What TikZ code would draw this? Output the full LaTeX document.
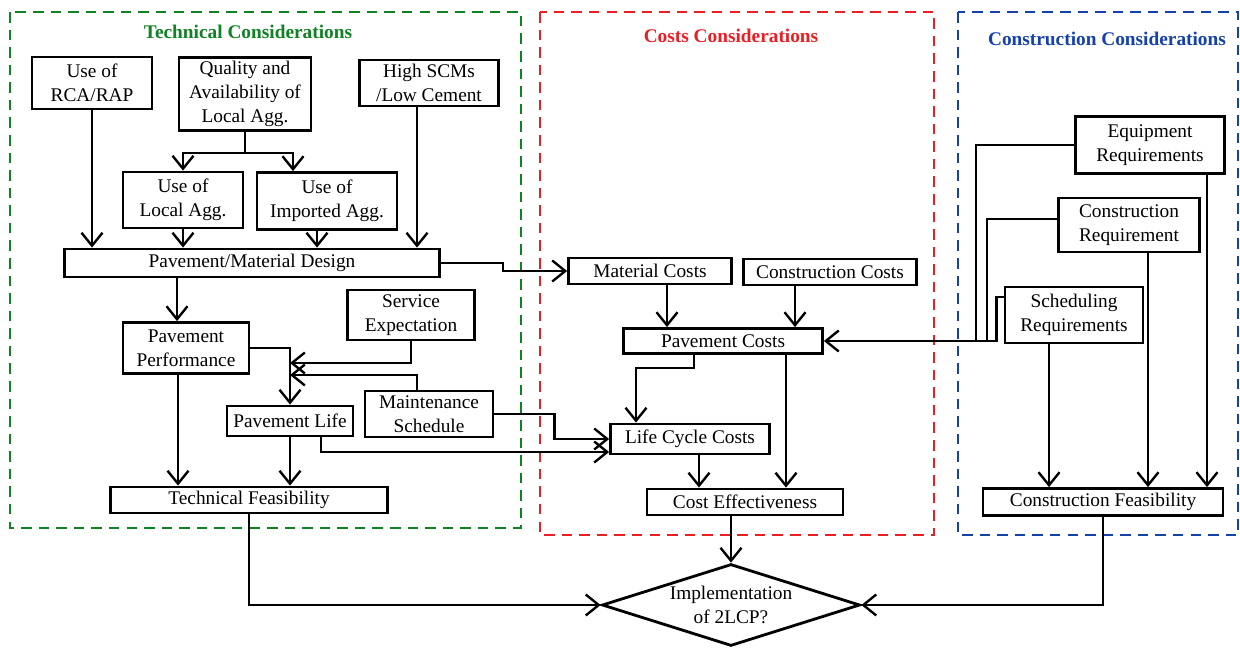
\documentclass[tikz,border=0pt]{standalone}
\usepackage{fontspec}
\setmainfont{Liberation Serif}
\usetikzlibrary{arrows.meta,shapes.geometric}
\definecolor{techgreen}{RGB}{15,130,35}
\definecolor{costred}{RGB}{235,30,35}
\definecolor{consblue}{RGB}{20,65,170}

\begin{document}
\begin{tikzpicture}[x=0.02cm,y=-0.02cm,>={Straight Barb[length=2.6mm,width=4.2mm]},line width=1.35pt,
    box/.style={draw,line width=1.6pt,align=center,inner sep=1pt,font=\fontsize{11}{13.5}\selectfont},
    group/.style={dashed,line width=1.3pt,dash pattern=on 6pt off 4pt},
    title/.style={font=\fontsize{11}{13}\selectfont\bfseries}]
\useasboundingbox (0,0) rectangle (1240,652);

% dashed groups
\draw[group,techgreen] (10,12) rectangle (521,528);
\draw[group,costred] (540,12) rectangle (934,535);
\draw[group,consblue] (958,12) rectangle (1238,535);
\node[title,techgreen] (ttech) at (248,32) {Technical Considerations};
\node[title,costred] (tcost) at (731,36) {Costs Considerations};
\node[title,consblue] (tcons) at (1107,39) {Construction Considerations};

% technical
\node[box,minimum width=2.4cm,minimum height=1.04cm] (rca) at (92,83) {Use of\\RCA/RAP};
\node[box,minimum width=2.64cm,minimum height=1.46cm] (qual) at (245,94) {Quality and\\Availability of\\Local Agg.};
\node[box,minimum width=2.78cm,minimum height=0.92cm] (scm) at (429,83) {High SCMs\\/Low Cement};
\node[box,minimum width=2.4cm,minimum height=1.12cm] (loc) at (183,200) {Use of\\Local Agg.};
\node[box,minimum width=2.8cm,minimum height=1.14cm] (imp) at (327,201) {Use of\\Imported Agg.};
\node[box,minimum width=7.5cm,minimum height=0.56cm] (pmd) at (252,263) {Pavement/Material Design};
\node[box,minimum width=2.52cm,minimum height=1.02cm] (perf) at (186,348) {Pavement\\Performance};
\node[box,minimum width=2.54cm,minimum height=1cm] (serv) at (411,315) {Service\\Expectation};
\node[box,minimum width=2.52cm,minimum height=0.6cm] (life) at (290,421) {Pavement Life};
\node[box,minimum width=2.56cm,minimum height=0.92cm] (maint) at (429,414) {Maintenance\\Schedule};
\node[box,minimum width=5.54cm,minimum height=0.52cm] (tfeas) at (249,500) {Technical Feasibility};

% costs
\node[box,minimum width=3.26cm,minimum height=0.52cm] (mat) at (650,271) {Material Costs};
\node[box,minimum width=3.46cm,minimum height=0.52cm] (ccost) at (830,272) {Construction Costs};
\node[box,minimum width=3.98cm,minimum height=0.5cm] (pcost) at (723,341) {Pavement Costs};
\node[box,minimum width=3.18cm,minimum height=0.6cm] (lcc) at (690,439) {Life Cycle Costs};
\node[box,minimum width=3.92cm,minimum height=0.52cm] (ceff) at (745,502) {Cost Effectiveness};

% construction
\node[box,minimum width=2.98cm,minimum height=1.14cm] (equip) at (1150,145) {Equipment\\Requirements};
\node[box,minimum width=2.82cm,minimum height=1.08cm] (creq) at (1129,225) {Construction\\Requirement};
\node[box,minimum width=2.76cm,minimum height=1.12cm] (sched) at (1074,315) {Scheduling\\Requirements};
\node[box,minimum width=4.8cm,minimum height=0.54cm] (cfeas) at (1103,502) {Construction Feasibility};

\node[draw,diamond,line width=1.6pt,aspect=2.75,inner sep=0pt,minimum width=5.16cm,align=center,
    font=\fontsize{11}{13.5}\selectfont] (impl) at (731,605) {Implementation\\of 2LCP?};

\coordinate (qs) at (245,153);
\coordinate (qi) at (293,153);
\coordinate (sj) at (290,363);
\coordinate (mj) at (290,375);
\coordinate (ex) at (976,0);
\coordinate (cx) at (987,0);

% technical links
\draw[->] (rca.south) -- (rca.south |- pmd.north);
\draw (qual.south) -- (qs);
\draw[->] (qs) -| (loc.north);
\draw[->] (qs) -- (qi) -- (qi |- imp.north);
\draw[->] (loc.south) -- (loc.south |- pmd.north);
\draw[->] ([xshift=-0.2cm]imp.south) -- ([xshift=-0.2cm]imp.south |- pmd.north);
\draw[->] ([xshift=-0.24cm]scm.south) -- ([xshift=-0.24cm]scm.south |- pmd.north);
\draw[->] ([xshift=-0.18cm]perf.north |- pmd.south) -- ([xshift=-0.18cm]perf.north);
\draw[->] (pmd.east) -- ++(62,0) |- (mat.west);
\draw[->] (perf.east) -| (life.north);
\draw[->] (serv.south) |- (sj);
\draw[->] ([xshift=-0.24cm]maint.north) |- (mj);
\draw[->] ([xshift=-0.16cm]perf.south) -- ([xshift=-0.16cm]perf.south |- tfeas.north);
\draw[->] (life.south) -- (life.south |- tfeas.north);
\draw[->] ([xshift=0.62cm]life.south) |- ([yshift=-0.26cm]lcc.west);
\draw[->] (maint.east) -- ++(60,0) |- (lcc.west);

% cost links
\draw[->] ([xshift=0.34cm]mat.south) -- ([xshift=0.34cm]mat.south |- pcost.north);
\draw[->] ([xshift=-0.7cm]ccost.south) -- ([xshift=-0.7cm]ccost.south |- pcost.north);
\draw[->] ([xshift=-0.58cm]pcost.south) -- ++(0,13) -| ([xshift=-1.08cm]lcc.north);
\draw[->] ([xshift=1.26cm]pcost.south) -- ([xshift=1.26cm]pcost.south |- ceff.north);
\draw[->] ([xshift=0.18cm]lcc.south) -- ([xshift=0.18cm]lcc.south |- ceff.north);
\draw[->] (ceff.south -| impl.north) -- (impl.north);

% construction links
\draw (equip.west) -| (ex |- pcost.east);
\draw ([yshift=0.12cm]creq.west) -| (cx |- pcost.east);
\draw[->] ([yshift=0.36cm]sched.west) -- ++(-7,0) |- (pcost.east);
\draw[->] ([xshift=-0.5cm]sched.south) -- ([xshift=-0.5cm]sched.south |- cfeas.north);
\draw[->] ([xshift=0.38cm]creq.south) -- ([xshift=0.38cm]creq.south |- cfeas.north);
\draw[->] ([xshift=1.14cm]equip.south) -- ([xshift=1.14cm]equip.south |- cfeas.north);

% to decision
\draw[->] (tfeas.south) |- (impl.west);
\draw[->] (cfeas.south) |- (impl.east);
\end{tikzpicture}
\end{document}
